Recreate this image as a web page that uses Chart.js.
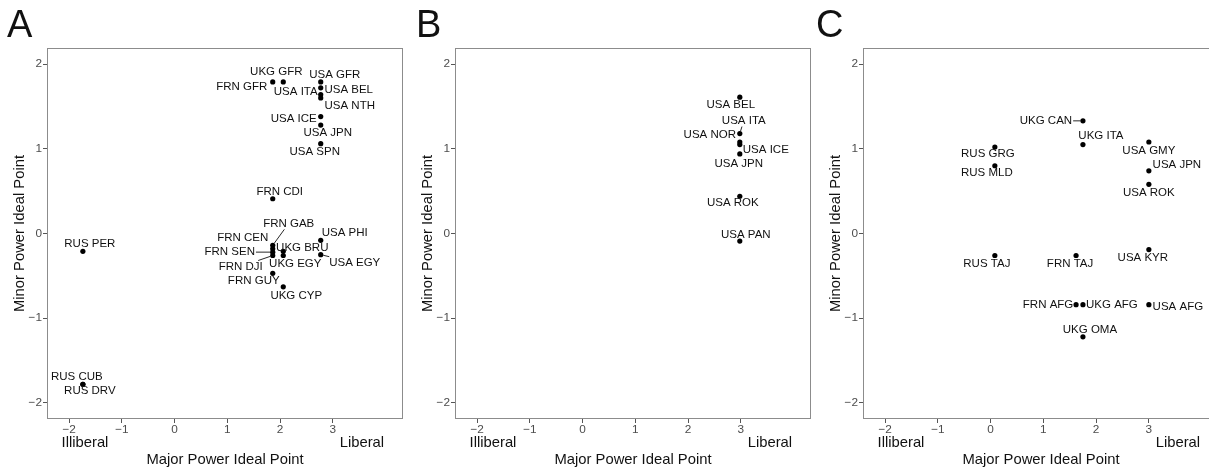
<!DOCTYPE html>
<html>
<head>
<meta charset="utf-8">
<script src="https://cdn.jsdelivr.net/npm/chart.js@4.4.1/dist/chart.umd.min.js"></script>
<style>
  html, body { margin: 0; padding: 0; background: #fff; overflow: hidden; }
  #wrap { position: relative; width: 1209px; height: 467px; overflow: hidden; }
  .panel { position: absolute; top: 0; }
</style>
</head>
<body>
<div id="wrap">
  <canvas class="panel" id="chartA" width="406" height="467" style="left:0px"></canvas>
  <canvas class="panel" id="chartB" width="406" height="467" style="left:408px"></canvas>
  <canvas class="panel" id="chartC" width="406" height="467" style="left:816px"></canvas>
</div>
<script>
// axis ticks
const xTicks = [-2, -1, 0, 1, 2, 3];
const yTicks = [-2, -1, 0, 1, 2];

// Panel A
const dyadsA = ["FRN GFR", "UKG GFR", "USA GFR", "USA BEL", "USA ITA", "USA NTH", "USA ICE", "USA JPN", "USA SPN",
  "FRN CDI", "FRN GAB", "FRN CEN", "FRN SEN", "FRN DJI", "UKG BRU", "UKG EGY", "USA PHI", "USA EGY",
  "FRN GUY", "UKG CYP", "RUS PER", "RUS CUB", "RUS DRV"];
const majorA = [1.86, 2.06, 2.77, 2.77, 2.77, 2.77, 2.77, 2.77, 2.77,
  1.86, 1.86, 1.86, 1.86, 1.86, 2.06, 2.06, 2.77, 2.77,
  1.86, 2.06, -1.74, -1.74, -1.74];
const minorA = [1.79, 1.79, 1.79, 1.72, 1.64, 1.60, 1.38, 1.28, 1.06,
  0.41, -0.14, -0.18, -0.22, -0.26, -0.21, -0.26, -0.08, -0.25,
  -0.47, -0.63, -0.21, -1.78, -1.78];

// Panel B
const dyadsB = ["USA BEL", "USA ITA", "USA NOR", "USA ICE", "USA JPN", "USA ROK", "USA PAN"];
const majorB = [2.98, 2.98, 2.98, 2.98, 2.98, 2.98, 2.98];
const minorB = [1.61, 1.18, 1.08, 1.05, 0.94, 0.44, -0.09];

// Panel C
const dyadsC = ["UKG CAN", "UKG ITA", "RUS GRG", "RUS MLD", "USA GMY", "USA JPN", "USA ROK",
  "RUS TAJ", "FRN TAJ", "USA KYR", "FRN AFG", "UKG AFG", "USA AFG", "UKG OMA"];
const majorC = [1.75, 1.75, 0.08, 0.08, 3.0, 3.0, 3.0, 0.08, 1.62, 3.0, 1.62, 1.75, 3.0, 1.75];
const minorC = [1.33, 1.05, 1.02, 0.80, 1.08, 0.74, 0.58, -0.26, -0.26, -0.19, -0.84, -0.84, -0.84, -1.22];

// label placement (pixel offsets from the point, like ggrepel output)
const labelOffA = [[-31, 5], [-7, -10], [14, -7], [28, 2], [-25, -3], [29, 8], [-27, 2], [7, 8], [-6, 8],
  [7, -7], [16, -22], [-30, -11], [-43, 0], [-32, 11], [19, -3], [12, 8], [24, -7], [34, 8],
  [-19, 8], [13, 9], [7, -7], [-6, -7], [7, 7]];
const labelOffB = [[-9, 8], [4, -13], [-30, -7], [26, 5], [-1, 10], [-7, 7], [6, -6]];
const labelOffC = [[-37, 0], [18, -9], [-7, 7], [-8, 7], [0, 9], [28, -6], [0, 8],
  [-8, 8], [-6, 8], [-6, 8], [-28, 0], [29, 0], [29, 2], [7, -7]];
const segmentsA = ["FRN GAB", "FRN SEN", "FRN DJI", "USA EGY"];
const segmentsB = ["USA ITA"];
const segmentsC = ["UKG CAN"];

const FONT = '"Liberation Sans", Arial, Helvetica, sans-serif';

function fmtTick(v) {
  return v < 0 ? "\u2212" + Math.abs(v) : String(v);
}

function makePanel(id, letter, letterX, names, xs, ys, offsets, segments) {
  const points = xs.map((x, i) => ({ x: x, y: ys[i] }));

  const decor = {
    id: "decor_" + id,
    afterDatasetsDraw(chart) {
      const ctx = chart.ctx;
      const meta = chart.getDatasetMeta(0);
      ctx.save();
      ctx.font = "11.5px " + FONT;
      ctx.fillStyle = "#111";
      ctx.strokeStyle = "#111";
      ctx.lineWidth = 0.9;
      ctx.textAlign = "center";
      ctx.textBaseline = "middle";
      names.forEach((name, i) => {
        const pt = meta.data[i];
        const lx = pt.x + offsets[i][0];
        const ly = pt.y + offsets[i][1];
        if (segments.includes(name)) {
          const hw = ctx.measureText(name).width / 2 + 1;
          const hh = 6;
          const dx = pt.x - lx, dy = pt.y - ly;
          const t = Math.min(dx ? hw / Math.abs(dx) : Infinity, dy ? hh / Math.abs(dy) : Infinity);
          const sx = lx + dx * t, sy = ly + dy * t;
          const len = Math.hypot(pt.x - sx, pt.y - sy);
          if (len > 3) {
            const ex = pt.x - (pt.x - sx) / len * 2.5;
            const ey = pt.y - (pt.y - sy) / len * 2.5;
            ctx.beginPath();
            ctx.moveTo(sx, sy);
            ctx.lineTo(ex, ey);
            ctx.stroke();
          }
        }
        ctx.fillText(name, lx, ly);
      });
      ctx.restore();
    },
    afterDraw(chart) {
      const ctx = chart.ctx;
      const a = chart.chartArea;
      const xs = chart.scales.x;
      ctx.save();
      ctx.strokeStyle = "#8c8c8c";
      ctx.lineWidth = 1;
      ctx.strokeRect(Math.round(a.left) + 0.5, Math.round(a.top) + 0.5,
        Math.round(a.right - a.left) - 1, Math.round(a.bottom - a.top) - 1);
      ctx.fillStyle = "#111";
      ctx.textBaseline = "middle";
      ctx.textAlign = "center";
      ctx.font = "14.8px " + FONT;
      ctx.fillText("Illiberal", xs.getPixelForValue(-1.7), a.bottom + 24);
      ctx.fillText("Liberal", xs.getPixelForValue(3.55), a.bottom + 24);
      ctx.textAlign = "left";
      ctx.textBaseline = "alphabetic";
      ctx.font = "38px " + FONT;
      ctx.fillText(letter, letterX, 37);
      ctx.restore();
    }
  };

  return new Chart(document.getElementById(id), {
    type: "scatter",
    data: {
      datasets: [{
        data: points,
        pointRadius: 2.6,
        pointHoverRadius: 2.6,
        pointBackgroundColor: "#000",
        pointBorderWidth: 0
      }]
    },
    options: {
      responsive: false,
      animation: false,
      events: [],
      layout: { padding: { top: 48, right: 3, left: 0, bottom: 0 } },
      plugins: { legend: { display: false }, tooltip: { enabled: false } },
      scales: {
        x: {
          type: "linear",
          min: -2.42,
          max: 4.33,
          afterBuildTicks: s => { s.ticks = xTicks.map(v => ({ value: v })); },
          afterFit: s => { s.height = 48; },
          grid: { drawOnChartArea: false, drawTicks: true, tickLength: 4, color: "#555" },
          border: { display: false },
          ticks: { color: "#4d4d4d", font: { size: 11.8, family: FONT }, padding: 0, maxRotation: 0, callback: fmtTick },
          title: { display: true, text: "Major Power Ideal Point", color: "#111",
            font: { size: 14.8, family: FONT, lineHeight: 1 }, padding: { top: 0, bottom: 0 } }
        },
        y: {
          type: "linear",
          min: -2.19,
          max: 2.19,
          afterBuildTicks: s => { s.ticks = yTicks.map(v => ({ value: v })); },
          afterFit: s => { s.width = 47; },
          grid: { drawOnChartArea: false, drawTicks: true, tickLength: 4, color: "#555" },
          border: { display: false },
          ticks: { color: "#4d4d4d", font: { size: 11.8, family: FONT }, padding: 1, callback: fmtTick },
          title: { display: true, text: "Minor Power Ideal Point", color: "#111",
            font: { size: 14.8, family: FONT, lineHeight: 1 }, padding: { top: 12.6, bottom: 0 } }
        }
      }
    },
    plugins: [decor]
  });
}

makePanel("chartA", "A", 7, dyadsA, majorA, minorA, labelOffA, segmentsA);
makePanel("chartB", "B", 8, dyadsB, majorB, minorB, labelOffB, segmentsB);
makePanel("chartC", "C", 0, dyadsC, majorC, minorC, labelOffC, segmentsC);
</script>
</body>
</html>
